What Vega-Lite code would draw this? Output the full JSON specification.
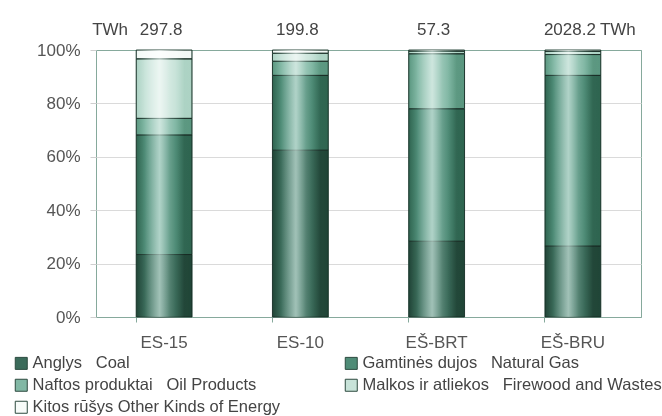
{
  "$schema": "https://vega.github.io/schema/vega-lite/v6.json",
  "width": 545,
  "height": 267,
  "autosize": {"type": "none"},
  "padding": {"left": 96, "top": 50, "right": 21, "bottom": 99},
  "background": "white",
  "config": {
    "font": "Liberation Sans",
    "view": {"stroke": "#86a99c", "strokeWidth": 1}
  },
  "datasets": {
    "shares": [
      {"cat": "ES-15", "type": "Anglys\u00a0\u00a0\u00a0Coal", "ord": 1, "share": 23.4},
      {"cat": "ES-15", "type": "Gamtinės dujos\u00a0\u00a0\u00a0Natural Gas", "ord": 2, "share": 44.8},
      {"cat": "ES-15", "type": "Naftos produktai\u00a0\u00a0\u00a0Oil Products", "ord": 3, "share": 6.2},
      {"cat": "ES-15", "type": "Malkos ir atliekos\u00a0\u00a0\u00a0Firewood and Wastes", "ord": 4, "share": 22.3},
      {"cat": "ES-15", "type": "Kitos rūšys Other Kinds of Energy", "ord": 5, "share": 3.3},
      {"cat": "ES-10", "type": "Anglys\u00a0\u00a0\u00a0Coal", "ord": 1, "share": 62.5},
      {"cat": "ES-10", "type": "Gamtinės dujos\u00a0\u00a0\u00a0Natural Gas", "ord": 2, "share": 28.0},
      {"cat": "ES-10", "type": "Naftos produktai\u00a0\u00a0\u00a0Oil Products", "ord": 3, "share": 5.3},
      {"cat": "ES-10", "type": "Malkos ir atliekos\u00a0\u00a0\u00a0Firewood and Wastes", "ord": 4, "share": 3.0},
      {"cat": "ES-10", "type": "Kitos rūšys Other Kinds of Energy", "ord": 5, "share": 1.2},
      {"cat": "EŠ-BRT", "type": "Anglys\u00a0\u00a0\u00a0Coal", "ord": 1, "share": 28.4},
      {"cat": "EŠ-BRT", "type": "Gamtinės dujos\u00a0\u00a0\u00a0Natural Gas", "ord": 2, "share": 49.6},
      {"cat": "EŠ-BRT", "type": "Naftos produktai\u00a0\u00a0\u00a0Oil Products", "ord": 3, "share": 20.6},
      {"cat": "EŠ-BRT", "type": "Malkos ir atliekos\u00a0\u00a0\u00a0Firewood and Wastes", "ord": 4, "share": 1.0},
      {"cat": "EŠ-BRT", "type": "Kitos rūšys Other Kinds of Energy", "ord": 5, "share": 0.4},
      {"cat": "EŠ-BRU", "type": "Anglys\u00a0\u00a0\u00a0Coal", "ord": 1, "share": 26.6},
      {"cat": "EŠ-BRU", "type": "Gamtinės dujos\u00a0\u00a0\u00a0Natural Gas", "ord": 2, "share": 63.9},
      {"cat": "EŠ-BRU", "type": "Naftos produktai\u00a0\u00a0\u00a0Oil Products", "ord": 3, "share": 7.8},
      {"cat": "EŠ-BRU", "type": "Malkos ir atliekos\u00a0\u00a0\u00a0Firewood and Wastes", "ord": 4, "share": 1.2},
      {"cat": "EŠ-BRU", "type": "Kitos rūšys Other Kinds of Energy", "ord": 5, "share": 0.5}
    ],
    "totals": [
      {"cat": "ES-15", "twh": 297.8},
      {"cat": "ES-10", "twh": 199.8},
      {"cat": "EŠ-BRT", "twh": 57.3},
      {"cat": "EŠ-BRU", "twh": 2028.2}
    ]
  },
  "layer": [
    {
      "data": {"name": "shares"},
      "mark": {"type": "bar", "stroke": "#2c4a3f", "strokeWidth": 1},
      "encoding": {
        "x": {
          "field": "cat", "type": "nominal",
          "sort": ["ES-15", "ES-10", "EŠ-BRT", "EŠ-BRU"],
          "scale": {"paddingInner": 0.59, "paddingOuter": 0.295},
          "axis": {
            "title": null, "labelAngle": 0, "domain": false, "grid": false,
            "ticks": true, "bandPosition": 0, "tickSize": 5, "tickColor": "#86a99c",
            "labelPadding": 12, "labelFontSize": 17, "labelColor": "#555555"
          }
        },
        "y": {
          "field": "share", "type": "quantitative",
          "scale": {"domain": [0, 100]},
          "axis": {
            "title": null, "values": [0, 20, 40, 60, 80, 100],
            "labelExpr": "datum.value + '%'", "domain": false,
            "grid": true,
            "gridColor": {"condition": {"test": "datum.value === 0 || datum.value === 100", "value": "#86a99c"}, "value": "#dadada"},
            "ticks": true, "tickSize": 6,
            "tickColor": "#cfcfcf", "labelPadding": 10, "labelFontSize": 17,
            "labelColor": "#555555"
          }
        },
        "color": {
          "field": "type", "type": "nominal",
          "scale": {
            "domain": [
              "Anglys\u00a0\u00a0\u00a0Coal",
              "Naftos produktai\u00a0\u00a0\u00a0Oil Products",
              "Kitos rūšys Other Kinds of Energy",
              "Gamtinės dujos\u00a0\u00a0\u00a0Natural Gas",
              "Malkos ir atliekos\u00a0\u00a0\u00a0Firewood and Wastes"
            ],
            "range": ["#3b6b5a", "#82b8a5", "#f7fbf9", "#4f8c77", "#c8e3d9"]
          },
          "legend": {
            "title": null, "orient": "none", "legendX": -83, "legendY": 305,
            "columns": 2, "columnPadding": 62, "rowPadding": 5,
            "symbolType": "square", "symbolSize": 144,
            "symbolStrokeColor": "#2c4a3f", "symbolStrokeWidth": 1,
            "labelFontSize": 16.5, "labelColor": "#444444", "labelLimit": 400,
            "labelOffset": 3
          }
        },
        "order": {"field": "ord", "type": "quantitative"}
      }
    },
    {
      "data": {"name": "shares"},
      "mark": {
        "type": "bar",
        "blend": "soft-light",
        "fill": {
          "gradient": "linear", "x1": 0, "x2": 1, "y1": 0, "y2": 0,
          "stops": [
            {"offset": 0, "color": "#454545"},
            {"offset": 0.12, "color": "#707070"},
            {"offset": 0.42, "color": "#ffffff"},
            {"offset": 0.62, "color": "#a0a0a0"},
            {"offset": 0.86, "color": "#4a4a4a"},
            {"offset": 1, "color": "#3a3a3a"}
          ]
        }
      },
      "encoding": {
        "x": {"field": "cat", "type": "nominal", "sort": ["ES-15", "ES-10", "EŠ-BRT", "EŠ-BRU"]},
        "y": {"aggregate": "sum", "field": "share", "type": "quantitative", "title": null}
      }
    },
    {
      "data": {"name": "shares"},
      "mark": {
        "type": "bar",
        "blend": "soft-light",
        "fillOpacity": 0.7,
        "fill": {
          "gradient": "linear", "x1": 0, "x2": 1, "y1": 0, "y2": 0,
          "stops": [
            {"offset": 0, "color": "#606060"},
            {"offset": 0.15, "color": "#808080"},
            {"offset": 0.42, "color": "#ffffff"},
            {"offset": 0.6, "color": "#909090"},
            {"offset": 0.86, "color": "#606060"},
            {"offset": 1, "color": "#707070"}
          ]
        }
      },
      "encoding": {
        "x": {"field": "cat", "type": "nominal", "sort": ["ES-15", "ES-10", "EŠ-BRT", "EŠ-BRU"]},
        "y": {"aggregate": "sum", "field": "share", "type": "quantitative", "title": null}
      }
    },
    {
      "data": {"name": "totals"},
      "mark": {"type": "text", "fontSize": 17, "color": "#444444", "baseline": "middle", "dy": -20, "dx": -3},
      "encoding": {
        "x": {"field": "cat", "type": "nominal", "sort": ["ES-15", "ES-10", "EŠ-BRT", "EŠ-BRU"]},
        "y": {"datum": 100, "type": "quantitative"},
        "text": {"field": "twh", "type": "quantitative", "format": ".1f"}
      }
    },
    {
      "data": {"name": "totals"},
      "transform": [{"filter": "datum.cat === 'ES-15'"}],
      "mark": {"type": "text", "fontSize": 17, "color": "#444444", "baseline": "middle", "dy": -20, "dx": -54, "text": "TWh"},
      "encoding": {
        "x": {"field": "cat", "type": "nominal", "sort": ["ES-15", "ES-10", "EŠ-BRT", "EŠ-BRU"]},
        "y": {"datum": 100, "type": "quantitative"}
      }
    },
    {
      "data": {"name": "totals"},
      "transform": [{"filter": "datum.cat === 'EŠ-BRU'"}],
      "mark": {"type": "text", "fontSize": 17, "color": "#444444", "baseline": "middle", "dy": -20, "dx": 45, "text": "TWh"},
      "encoding": {
        "x": {"field": "cat", "type": "nominal", "sort": ["ES-15", "ES-10", "EŠ-BRT", "EŠ-BRU"]},
        "y": {"datum": 100, "type": "quantitative"}
      }
    }
  ]
}
